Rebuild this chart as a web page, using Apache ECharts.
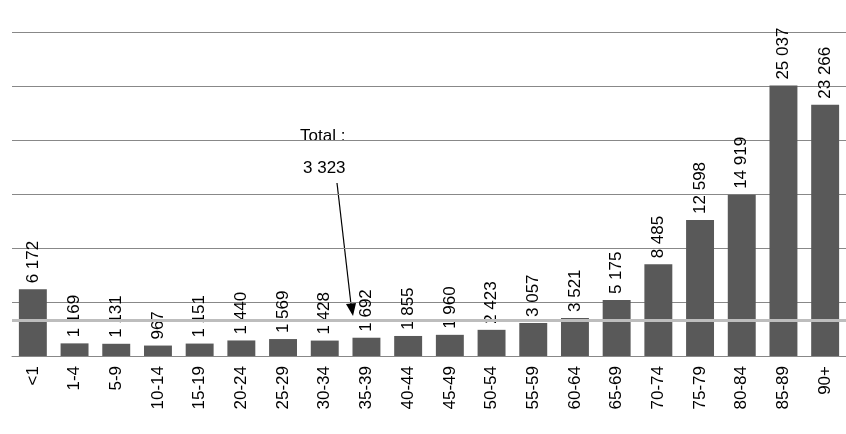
<!DOCTYPE html>
<html>
<head>
<meta charset="utf-8">
<script src="https://cdn.jsdelivr.net/npm/echarts@6/dist/echarts.min.js"></script>
<style>html,body{margin:0;padding:0;background:#fff}#main{width:846px;height:434px}</style>
</head>
<body>
<div id="main"></div>
<script>
var ageGroups = ['<1', '1-4', '5-9', '10-14', '15-19', '20-24', '25-29', '30-34', '35-39', '40-44',
	'45-49', '50-54', '55-59', '60-64', '65-69', '70-74', '75-79', '80-84', '85-89', '90+']
var deaths = [6172, 1169, 1131, 967, 1151, 1440, 1569, 1428, 1692, 1855,
	1960, 2423, 3057, 3521, 5175, 8485, 12598, 14919, 25037, 23266]
var total = 3323

function fmt(v) {
	return String(v).replace(/\B(?=(\d{3})+(?!\d))/g, ' ')
}

var chart = echarts.init(document.getElementById('main'))
var font = 'Liberation Sans'
chart.setOption({
	animation: false,
	textStyle: { fontFamily: font },
	grid: { left: 12, right: 0, top: 32, bottom: 78 },
	xAxis: {
		type: 'category',
		data: ageGroups,
		axisTick: { show: false },
		axisLine: { lineStyle: { color: '#888' } },
		axisLabel: { rotate: 90, color: '#000', fontSize: 17, fontFamily: font, margin: 10 },
	},
	yAxis: {
		type: 'value',
		min: 0,
		max: 30000,
		interval: 5000,
		axisLabel: { show: false },
		splitLine: { lineStyle: { color: '#888' } },
	},
	series: [
		{
			type: 'bar',
			data: deaths,
			barCategoryGap: '33%',
			itemStyle: { color: '#595959' },
			label: {
				show: true,
				position: 'top',
				rotate: 90,
				align: 'left',
				verticalAlign: 'middle',
				distance: 6,
				color: '#000',
				fontSize: 17,
				fontFamily: font,
				formatter: function (p) { return fmt(p.value) },
			},
			markLine: {
				silent: true,
				symbol: 'none',
				label: { show: false },
				lineStyle: { color: '#bdbdbd', width: 3, type: 'solid' },
				data: [{ yAxis: total }],
			},
		},
	],
	graphic: [
		{ type: 'text', left: 300, top: 128, style: { text: 'Total :', font: '17px ' + font, fill: '#000' } },
		{ type: 'text', left: 303, top: 160, style: { text: fmt(total), font: '17px ' + font, fill: '#000' } },
		{ type: 'line', shape: { x1: 337, y1: 183, x2: 352, y2: 313 }, style: { stroke: '#000', lineWidth: 1.2 } },
		{ type: 'polygon', shape: { points: [[353, 316], [346, 304], [356, 303]] }, style: { fill: '#000' } },
	],
})
</script>
</body>
</html>
